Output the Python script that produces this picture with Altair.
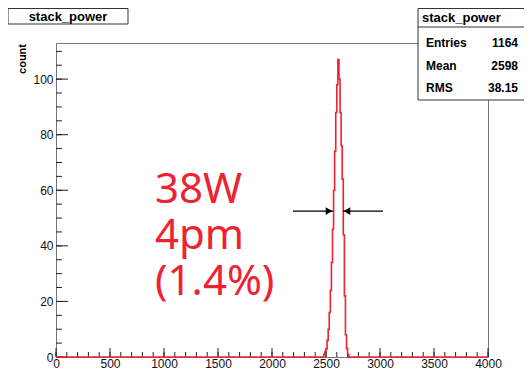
import altair as alt
import pandas as pd

RED = "#ee2233"
FONT = "Liberation Sans"

# histogram: bins of width 10 (only non-empty region listed)
bin_starts = [2480, 2490, 2500, 2510, 2520, 2530, 2540, 2550, 2560, 2570, 2580, 2590,
              2600, 2610, 2620, 2630, 2640, 2650, 2660, 2670, 2680, 2690, 2700]
counts = [1, 2, 3, 6, 10, 16, 24, 34, 46, 60, 74, 88,
          98, 107, 100, 88, 76, 64, 44, 22, 8, 3, 1]
bin_width = 10
x_lo, x_hi = 0, 4000
y_hi = 113

x_major = [0, 500, 1000, 1500, 2000, 2500, 3000, 3500, 4000]
x_minor = list(range(0, 4001, 100))
y_major = [0, 20, 40, 60, 80, 100]
y_minor = list(range(0, 111, 5))

stats_labels = ["Entries", "Mean", "RMS"]
stats_values = ["1164", "2598", "38.15"]
hist_name = "stack_power"
annotation_lines = ["38W", "4pm", "(1.4%)"]

# FWHM arrows (data units)
fwhm_left, fwhm_right = 2565, 2657
arrow_out_left, arrow_out_right = 2194, 3028
half_max = 52.5

W, H = 432, 314

xs = [x_lo] + bin_starts + [bin_starts[-1] + bin_width, x_hi]
ys = [0] + counts + [0, 0]
hist = pd.DataFrame({"x": xs, "y": ys})

xscale = alt.Scale(domain=[x_lo, x_hi], nice=False, zero=False)
yscale = alt.Scale(domain=[0, y_hi], nice=False)

line = alt.Chart(hist).mark_line(interpolate="step-after", color=RED, strokeWidth=1.6).encode(
    x=alt.X("x:Q", scale=xscale, axis=alt.Axis(values=x_major, ticks=False, domain=False, grid=False,
                                               title=None, labelFont=FONT, labelFontSize=12,
                                               labelColor="#111", labelPadding=1, labelFlush=False,
                                               format="d")),
    y=alt.Y("y:Q", scale=yscale, axis=alt.Axis(values=y_major, ticks=False, domain=False, grid=False,
                                               title=None, labelFont=FONT, labelFontSize=12,
                                               labelColor="#111", labelPadding=3, format="d")),
)

def tick_df(v):
    return pd.DataFrame({"v": v})

xmaj = alt.Chart(tick_df(x_major)).mark_rule(color="#222", strokeWidth=1).encode(
    x=alt.X("v:Q", scale=xscale), y=alt.value(H), y2=alt.value(H - 9))
xmin = alt.Chart(tick_df(x_minor)).mark_rule(color="#222", strokeWidth=1).encode(
    x=alt.X("v:Q", scale=xscale), y=alt.value(H), y2=alt.value(H - 5))
ymaj = alt.Chart(tick_df(y_major)).mark_rule(color="#222", strokeWidth=1).encode(
    y=alt.Y("v:Q", scale=yscale), x=alt.value(0), x2=alt.value(12))
ymin = alt.Chart(tick_df(y_minor)).mark_rule(color="#222", strokeWidth=1).encode(
    y=alt.Y("v:Q", scale=yscale), x=alt.value(0), x2=alt.value(6))

one = pd.DataFrame({"a": [0]})

ann_layers = []
for i, t in enumerate(annotation_lines):
    ann_layers.append(alt.Chart(one).mark_text(text=t, font="Noto Sans", fontSize=42, color=RED,
                                               align="left", baseline="alphabetic").encode(
        x=alt.value(99), y=alt.value(160 + i * 46)))

arrows_df = pd.DataFrame({"x1": [arrow_out_left, arrow_out_right], "x2": [fwhm_left, fwhm_right],
                          "y": [half_max, half_max]})
arrow_lines = alt.Chart(arrows_df).mark_rule(color="black", strokeWidth=1.3).encode(
    x=alt.X("x1:Q", scale=xscale), x2="x2:Q", y=alt.Y("y:Q", scale=yscale))
head_l = alt.Chart(pd.DataFrame({"x": [fwhm_left], "y": [half_max]})).mark_point(
    shape="triangle-right", filled=True, color="black", size=60, opacity=1).encode(
    x=alt.X("x:Q", scale=xscale), y=alt.Y("y:Q", scale=yscale), xOffset=alt.value(-4))
head_r = alt.Chart(pd.DataFrame({"x": [fwhm_right], "y": [half_max]})).mark_point(
    shape="triangle-left", filled=True, color="black", size=60, opacity=1).encode(
    x=alt.X("x:Q", scale=xscale), y=alt.Y("y:Q", scale=yscale), xOffset=alt.value(4))

# title box
tbox = alt.Chart(one).mark_rect(fill="white", stroke="#333", strokeWidth=1).encode(
    x=alt.value(-48), x2=alt.value(72), y=alt.value(-34.5), y2=alt.value(-19))
ttext = alt.Chart(one).mark_text(text=hist_name, font=FONT, fontSize=13, fontWeight="bold",
                                 color="black", align="center", baseline="middle").encode(
    x=alt.value(12), y=alt.value(-26.5))

ytitle = alt.Chart(one).mark_text(text="count", font=FONT, fontSize=11, fontWeight="bold",
                                  color="black", angle=270, align="right", baseline="middle").encode(
    x=alt.value(-33), y=alt.value(1))

# stats box (runs off the right edge like the reference)
sbox = alt.Chart(one).mark_rect(fill="white", stroke="#333", strokeWidth=1).encode(
    x=alt.value(362), x2=alt.value(480), y=alt.value(-34.5), y2=alt.value(57))
sdiv = alt.Chart(one).mark_rule(color="#333", strokeWidth=1).encode(
    x=alt.value(362), x2=alt.value(480), y=alt.value(-16))
shead = alt.Chart(one).mark_text(text=hist_name, font=FONT, fontSize=13, fontWeight="bold",
                                 color="black", align="left", baseline="middle").encode(
    x=alt.value(366), y=alt.value(-25))
srows = []
for i, (lab, val) in enumerate(zip(stats_labels, stats_values)):
    yy = i * 22.5
    srows.append(alt.Chart(one).mark_text(text=lab, font=FONT, fontSize=12, fontWeight="bold",
                                          color="black", align="left", baseline="middle").encode(
        x=alt.value(370), y=alt.value(yy)))
    srows.append(alt.Chart(one).mark_text(text=val, font=FONT, fontSize=12, fontWeight="bold",
                                          color="black", align="right", baseline="middle").encode(
        x=alt.value(462), y=alt.value(yy)))

chart = alt.layer(xmin, xmaj, ymin, ymaj, line, *ann_layers, arrow_lines, head_l, head_r,
                  tbox, ttext, ytitle, sbox, sdiv, shead, *srows).properties(
    width=W, height=H,
    autosize=alt.AutoSizeParams(type="none"),
    padding={"left": 48, "top": 35, "right": 36, "bottom": 13},
    background="white",
).configure_view(stroke="#777", strokeWidth=1)

chart.save("out.html", embed_options={"renderer": "svg", "actions": False})
